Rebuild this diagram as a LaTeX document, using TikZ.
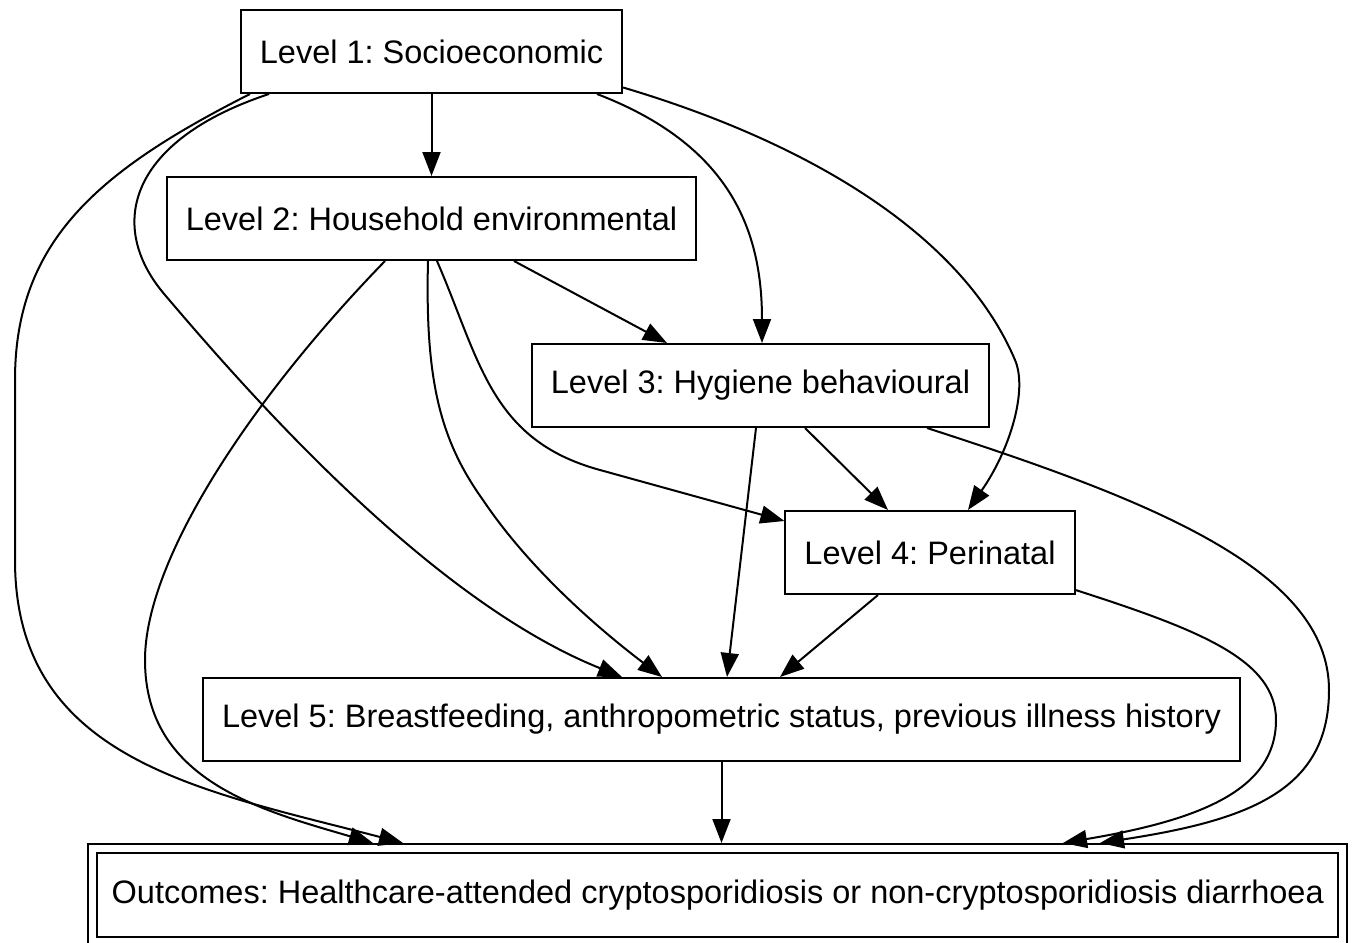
\documentclass[tikz,border=0pt]{standalone}
\usepackage{fontspec}
\setmainfont{Liberation Sans}
\usetikzlibrary{arrows.meta,calc}
\frenchspacing
\tikzset{
  level/.style={draw, line width=1pt, minimum height=41.5pt, inner xsep=9.5pt,
    font=\fontsize{16.25pt}{19pt}\selectfont},
  outcome/.style={level, double, double distance=3.5pt, outer sep=2.75pt,
    minimum width=624.75pt, minimum height=46.5pt},
  link/.style={-{Triangle[length=12pt,width=9pt]}, line width=1pt}
}
\begin{document}
\begin{tikzpicture}[x=0.5pt,y=-0.5pt]
\useasboundingbox (0,0) rectangle (1357,943);
\node[level] (L1) at (431.5,51.5) {Level 1: Socioeconomic};
\node[level] (L2) at (431.5,218.5) {Level 2: Household environmental};
\node[level] (L3) at (760.5,385.5) {Level 3: Hygiene behavioural};
\node[level] (L4) at (930,552.5) {Level 4: Perinatal};
\node[level] (L5) at (721.5,719.5) {Level 5: Breastfeeding, anthropometric status, previous illness history};
\node[outcome] (Out) at (717.75,895) {Outcomes: Healthcare-attended cryptosporidiosis or non-cryptosporidiosis diarrhoea};
% level 1
\draw[link] (L1) -- (L2);
\draw[link] ($(L1.south)+(165.5,0)$) .. controls (730,145) and (762,230) .. ($(L3.north)+(1.5,0)$);
\draw[link] ($(L1.east)+(0,36)$) .. controls (800,140) and (960,230) .. (1015,360)
  .. controls (1028,390) and (1010,450) .. ($(L4.north)+(38,0)$);
\draw[link] ($(L1.south)+(-162.5,0)$) .. controls (130,140) and (105,225) .. (165,295)
  .. controls (250,395) and (430,600) .. ($(L5.north)+(-99.5,0)$);
\draw[link] ($(L1.south)+(-181.5,0)$) .. controls (100,170) and (15,240) .. (15,380) -- (15,560)
  .. controls (15,760) and (200,790) .. ($(Out.north)+(-314.75,0)$);
% level 2
\draw[link] ($(L2.south)+(82.5,0)$) -- ($(L3.north)+(-93.5,0)$);
\draw[link] ($(L2.south)+(5.5,0)$) .. controls (480,360) and (490,440) .. (600,470) -- ($(L4.west)+(0,-31.5)$);
\draw[link] ($(L2.south)+(-3.5,0)$) .. controls (425,380) and (440,440) .. (483,500)
  .. controls (530,570) and (600,630) .. ($(L5.north)+(-59.5,0)$);
\draw[link] ($(L2.south)+(-46.5,0)$) .. controls (250,400) and (145,560) .. (145,660)
  .. controls (145,780) and (260,810) .. ($(Out.north)+(-344.75,0)$);
% level 3
\draw[link] ($(L3.south)+(44.5,0)$) -- ($(L4.north)+(-42,0)$);
\draw[link] ($(L3.south)+(-4.5,0)$) -- ($(L5.north)+(5.5,0)$);
\draw[link] ($(L3.south)+(166.5,0)$) .. controls (1150,500) and (1329,570) .. (1329,690)
  .. controls (1329,790) and (1250,820) .. ($(Out.north)+(382.25,0)$);
% level 4
\draw[link] ($(L4.south)+(-52,0)$) -- ($(L5.north)+(58.5,0)$);
\draw[link] ($(L4.east)+(0,37.5)$) .. controls (1200,630) and (1276,660) .. (1276,720)
  .. controls (1276,790) and (1200,820) .. ($(Out.north)+(345.25,0)$);
% level 5
\draw[link] (L5.south) -- (L5.south |- Out.north);
\end{tikzpicture}
\end{document}
